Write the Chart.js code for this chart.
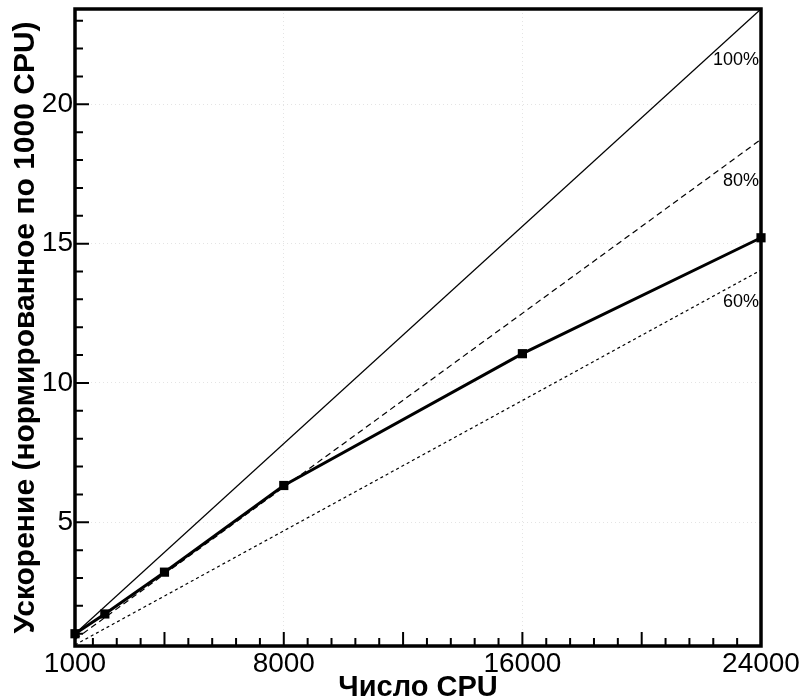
<!DOCTYPE html>
<html>
<head>
<meta charset="utf-8">
<script src="https://cdn.jsdelivr.net/npm/chart.js@4"></script>
<style>
  body { margin: 0; background: #fff; }
  #wrap { width: 801px; height: 698px; }
</style>
</head>
<body>
<div id="wrap"><canvas id="speedupChart" width="801" height="698"></canvas></div>
<script>
// measured speedup, normalised to 1000 CPU
const cpuCounts = [1000, 2000, 4000, 8000, 16000, 24000];
const speedup = [1.0, 1.71, 3.21, 6.32, 11.05, 15.21];

// reference efficiency lines (end points)
const refX = [1000, 24000];
const ideal100 = [1.0, 23.42];
const ideal80 = [0.8, 18.74];
const ideal60 = [0.6, 14.05];
const refLabels = ['100%', '80%', '60%'];

// tick labels
const xTickLabels = [1000, 8000, 16000, 24000];
const yTickLabels = [5, 10, 15, 20];

const pts = (xs, ys) => xs.map((x, i) => ({ x: x, y: ys[i] }));

const axisFont = { family: 'Liberation Sans, Arial, sans-serif', size: 28 };

// inward ticks, frame and the % labels
const framePlugin = {
	id: 'frame',
	afterDraw(chart) {
		const ctx = chart.ctx;
		const xs = chart.scales.x, ys = chart.scales.y;
		const a = chart.chartArea;
		ctx.save();
		ctx.strokeStyle = '#000';
		ctx.lineWidth = 2;
		ctx.beginPath();
		for (let v = 1; v < 23.42; v += 1) {
			const py = ys.getPixelForValue(v);
			const len = v % 5 === 0 ? 14 : 8;
			ctx.moveTo(a.left, py);
			ctx.lineTo(a.left + len, py);
		}
		for (let v = 1600; v < 24000; v += 800) {
			const px = xs.getPixelForValue(v);
			const len = v % 4000 === 0 ? 14 : 8;
			ctx.moveTo(px, a.bottom);
			ctx.lineTo(px, a.bottom - len);
		}
		ctx.stroke();

		ctx.lineWidth = 3.5;
		ctx.strokeRect(a.left, a.top, a.right - a.left, a.bottom - a.top);

		ctx.fillStyle = '#000';
		ctx.font = '18px Liberation Sans, Arial, sans-serif';
		ctx.textAlign = 'right';
		ctx.textBaseline = 'middle';
		const labelY = [21.6, 17.25, 12.9];
		refLabels.forEach((t, i) => {
			ctx.fillText(t, a.right - 2, ys.getPixelForValue(labelY[i]));
		});
		ctx.restore();
	}
};

const ctx = document.getElementById('speedupChart').getContext('2d');
const speedupChart = new Chart(ctx, {
	type: 'line',
	data: {
		datasets: [
			{
				data: pts(refX, ideal100),
				borderColor: '#000',
				borderWidth: 1.2,
				pointRadius: 0
			},
			{
				data: pts(refX, ideal80),
				borderColor: '#000',
				borderWidth: 1.2,
				borderDash: [6, 4],
				pointRadius: 0
			},
			{
				data: pts(refX, ideal60),
				borderColor: '#000',
				borderWidth: 1.2,
				borderDash: [3, 3],
				pointRadius: 0
			},
			{
				data: pts(cpuCounts, speedup),
				borderColor: '#000',
				borderWidth: 3,
				pointStyle: 'rect',
				pointRadius: 6.5,
				pointBackgroundColor: '#000',
				pointBorderColor: '#000',
				pointBorderWidth: 0
			}
		]
	},
	options: {
		responsive: false,
		animation: false,
		clip: false,
		layout: {
			padding: { left: 0, right: 40, top: 9, bottom: 0 }
		},
		plugins: {
			legend: { display: false },
			tooltip: { enabled: false }
		},
		scales: {
			x: {
				type: 'linear',
				min: 1000,
				max: 24000,
				afterBuildTicks: (scale) => {
					scale.ticks = xTickLabels.map(v => ({ value: v }));
				},
				afterFit: (scale) => {
					scale.height = 52;
					scale.paddingLeft = 0;
					scale.paddingRight = 0;
				},
				ticks: {
					font: axisFont,
					color: '#000',
					padding: 1,
					maxRotation: 0,
					autoSkip: false,
					callback: (v) => String(v)
				},
				grid: {
					color: '#e4e4e4',
					lineWidth: 1,
					drawTicks: false
				},
				border: { display: false, dash: [1, 3] },
				title: {
					display: true,
					text: 'Число CPU',
					color: '#000',
					font: { family: 'Liberation Sans, Arial, sans-serif', size: 29, weight: 'bold', lineHeight: 1 },
					padding: { top: 0, bottom: -4 }
				}
			},
			y: {
				type: 'linear',
				min: 0.56,
				max: 23.42,
				afterBuildTicks: (scale) => {
					scale.ticks = yTickLabels.map(v => ({ value: v }));
				},
				afterFit: (scale) => {
					scale.width = 75;
					scale.paddingTop = 0;
					scale.paddingBottom = 0;
				},
				ticks: {
					font: axisFont,
					color: '#000',
					padding: 2,
					autoSkip: false,
					callback: (v) => String(v)
				},
				grid: {
					color: '#e4e4e4',
					lineWidth: 1,
					drawTicks: false
				},
				border: { display: false, dash: [1, 3] },
				title: {
					display: true,
					text: 'Ускорение (нормированное по 1000 CPU)',
					color: '#000',
					font: { family: 'Liberation Sans, Arial, sans-serif', size: 30, weight: 'bold', lineHeight: 1 },
					padding: { top: 11, bottom: 0 }
				}
			}
		}
	},
	plugins: [framePlugin]
});
</script>
</body>
</html>
